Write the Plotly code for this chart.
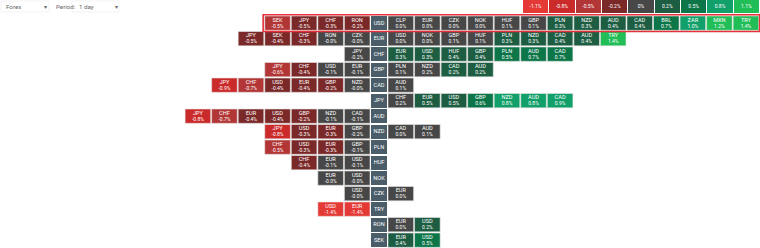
import plotly.graph_objects as go

# ---------------- data ----------------
bases = ["USD", "EUR", "CHF", "GBP", "CAD", "JPY", "AUD", "NZD",
         "PLN", "HUF", "NOK", "CZK", "TRY", "RON", "SEK"]

left_labels = [
    ["SEK", "JPY", "CHF", "RON"],
    ["JPY", "SEK", "CHF", "RON", "CZK"],
    ["JPY"],
    ["JPY", "CHF", "USD", "EUR"],
    ["JPY", "CHF", "USD", "EUR", "GBP", "NZD"],
    [],
    ["JPY", "CHF", "EUR", "USD", "GBP", "NZD", "CAD"],
    ["JPY", "USD", "EUR", "GBP"],
    ["CHF", "USD", "EUR", "GBP"],
    ["CHF", "EUR", "USD"],
    ["EUR", "USD"],
    ["USD"],
    ["USD", "EUR"],
    [],
    [],
]
left_values = [
    [-0.52, -0.46, -0.3, -0.22],
    [-0.46, -0.4, -0.3, -0.01, -0.01],
    [-0.18],
    [-0.6, -0.4, -0.1, -0.1],
    [-0.9, -0.7, -0.4, -0.4, -0.22, -0.01],
    [],
    [-0.8, -0.7, -0.4, -0.4, -0.22, -0.1, -0.1],
    [-0.8, -0.3, -0.3, -0.18],
    [-0.52, -0.3, -0.3, -0.1],
    [-0.4, -0.1, -0.1],
    [-0.01, -0.01],
    [-0.01],
    [-1.4, -1.4],
    [],
    [],
]
right_labels = [
    ["CLP", "EUR", "CZK", "NOK", "HUF", "GBP", "PLN", "NZD", "AUD", "CAD", "BRL", "ZAR", "MXN", "TRY"],
    ["USD", "NOK", "GBP", "HUF", "PLN", "NZD", "CAD", "AUD", "TRY"],
    ["EUR", "USD", "HUF", "GBP", "PLN", "AUD", "CAD"],
    ["PLN", "NZD", "CAD", "AUD"],
    ["AUD"],
    ["CHF", "EUR", "USD", "GBP", "NZD", "AUD", "CAD"],
    [],
    ["CAD", "AUD"],
    [],
    [],
    [],
    ["EUR"],
    [],
    ["EUR", "USD"],
    ["EUR", "USD"],
]
right_values = [
    [0.0, 0.0, 0.0, 0.0, 0.1, 0.1, 0.3, 0.3, 0.4, 0.4, 0.7, 1.0, 1.2, 1.4],
    [0.0, 0.0, 0.1, 0.1, 0.3, 0.3, 0.4, 0.4, 1.4],
    [0.3, 0.3, 0.4, 0.4, 0.52, 0.7, 0.7],
    [0.1, 0.18, 0.22, 0.22],
    [0.1],
    [0.18, 0.46, 0.46, 0.6, 0.8, 0.8, 0.9],
    [],
    [0.0, 0.1],
    [],
    [],
    [],
    [0.0],
    [],
    [0.0, 0.22],
    [0.4, 0.52],
]

legend_levels = [-1.1, -0.8, -0.5, -0.2, 0, 0.2, 0.5, 0.8, 1.1]
legend_colors = ["#e53935", "#cb2a2a", "#b23636", "#7b2828", "#474747",
                 "#1d5d42", "#0c7649", "#12a06a", "#21bd56"]

# ---------------- layout constants ----------------
W, H = 760, 248
TOP = 16.0
ROW_P = 15.5
CELL_H = 14.3
BASE_X0 = 371.0
BASE_W = 16.0
RIGHT_X0 = 388.0
LEFT_X1 = 370.0
COL_P = 26.55
CELL_W = 25.6
BASE_COLOR = "#4a5d69"
FONT = "Roboto"


def color_for(v):
    if v < 0:
        for lvl, c in zip(legend_levels[:4], legend_colors[:4]):
            if v <= lvl + 1e-9:
                return c
        return legend_colors[4]
    for lvl, c in zip(reversed(legend_levels[5:]), reversed(legend_colors[5:])):
        if v >= lvl - 1e-9:
            return c
    return legend_colors[4]


cx0, cw, cy, cc, cname, cval = [], [], [], [], [], []
for r, base in enumerate(bases):
    yc = TOP + r * ROW_P + CELL_H / 2
    for k, (lab, v) in enumerate(zip(reversed(left_labels[r]), reversed(left_values[r]))):
        x1 = LEFT_X1 - k * COL_P
        cx0.append(x1 - CELL_W); cw.append(CELL_W); cy.append(yc)
        cc.append(color_for(v)); cname.append(lab); cval.append(f"{v:.1f}%")
    for k, (lab, v) in enumerate(zip(right_labels[r], right_values[r])):
        x0 = RIGHT_X0 + k * COL_P
        cx0.append(x0); cw.append(CELL_W); cy.append(yc)
        cc.append(color_for(v)); cname.append(lab); cval.append(f"{v:.1f}%")

fig = go.Figure()

# cells
fig.add_trace(go.Bar(
    orientation="h", base=cx0, x=cw, y=cy, width=CELL_H,
    marker=dict(color=cc, line=dict(color="#e4e4e4", width=0.6)),
    hoverinfo="skip", showlegend=False))

# base column
base_y = [TOP + r * ROW_P + CELL_H / 2 for r in range(len(bases))]
fig.add_trace(go.Bar(
    orientation="h", base=[BASE_X0] * len(bases), x=[BASE_W] * len(bases), y=base_y,
    width=CELL_H, marker=dict(color=BASE_COLOR, line=dict(width=0)),
    hoverinfo="skip", showlegend=False))

# legend boxes
LEG_P = 26.35
LEG_W = 25.4
LEG_H = 13.0
leg_x0 = [W - (len(legend_levels) - i) * LEG_P for i in range(len(legend_levels))]
fig.add_trace(go.Bar(
    orientation="h", base=leg_x0, x=[LEG_W] * len(legend_levels),
    y=[LEG_H / 2] * len(legend_levels), width=LEG_H,
    marker=dict(color=legend_colors, line=dict(width=0)),
    hoverinfo="skip", showlegend=False))

# texts
centers = [x + w / 2 for x, w in zip(cx0, cw)]
fig.add_trace(go.Scatter(
    x=centers, y=[y - 3.0 for y in cy], mode="text", text=cname,
    textfont=dict(family=FONT, size=5.6, color="white"),
    hoverinfo="skip", showlegend=False))
fig.add_trace(go.Scatter(
    x=centers, y=[y + 3.3 for y in cy], mode="text", text=cval,
    textfont=dict(family=FONT, size=5.0, color="white"),
    hoverinfo="skip", showlegend=False))
fig.add_trace(go.Scatter(
    x=[BASE_X0 + BASE_W / 2] * len(bases), y=base_y, mode="text", text=bases,
    textfont=dict(family=FONT, size=5.6, color="white"),
    hoverinfo="skip", showlegend=False))
fig.add_trace(go.Scatter(
    x=[x + LEG_W / 2 for x in leg_x0], y=[LEG_H / 2 + 0.5] * len(legend_levels),
    mode="text", text=[f"{v:g}%" for v in legend_levels],
    textfont=dict(family=FONT, size=5.0, color="white"),
    hoverinfo="skip", showlegend=False))

shapes = []
# red outline around first row
n_left0 = len(left_labels[0])
n_right0 = len(right_labels[0])
ox0 = LEFT_X1 - (n_left0 - 1) * COL_P - CELL_W - 1.6
ox1 = RIGHT_X0 + (n_right0 - 1) * COL_P + CELL_W + 0.9
shapes.append(dict(type="rect", xref="x", yref="y", x0=ox0, x1=ox1,
                   y0=TOP - 1.2, y1=TOP + CELL_H + 1.2,
                   line=dict(color="#e8303a", width=1.6), fillcolor="rgba(0,0,0,0)"))
# dropdown boxes
for bx0, bx1 in [(1, 49), (72, 119)]:
    shapes.append(dict(type="rect", xref="x", yref="y", x0=bx0, x1=bx1, y0=1, y1=12,
                       line=dict(color="#f0f0f0", width=0.8), fillcolor="white", layer="below"))

annotations = [
    dict(x=4, y=6.8, xref="x", yref="y", text="Forex", showarrow=False, xanchor="left",
         font=dict(family=FONT, size=6.2, color="#666")),
    dict(x=45, y=6.8, xref="x", yref="y", text="▾", showarrow=False,
         font=dict(family=FONT, size=6, color="#666")),
    dict(x=54, y=6.8, xref="x", yref="y", text="Period:", showarrow=False, xanchor="left",
         font=dict(family=FONT, size=6.2, color="#666")),
    dict(x=77, y=6.8, xref="x", yref="y", text="1 day", showarrow=False, xanchor="left",
         font=dict(family=FONT, size=6.2, color="#666")),
    dict(x=116, y=6.8, xref="x", yref="y", text="▾", showarrow=False,
         font=dict(family=FONT, size=6, color="#666")),
]

fig.update_layout(
    width=W, height=H, margin=dict(l=0, r=0, t=0, b=0),
    paper_bgcolor="white", plot_bgcolor="white",
    barmode="overlay", bargap=0,
    xaxis=dict(range=[0, W], visible=False, fixedrange=True),
    yaxis=dict(range=[H, 0], visible=False, fixedrange=True),
    shapes=shapes, annotations=annotations,
    hovermode=False,
)

fig.write_html("out.html", config={"displayModeBar": False, "staticPlot": True})
